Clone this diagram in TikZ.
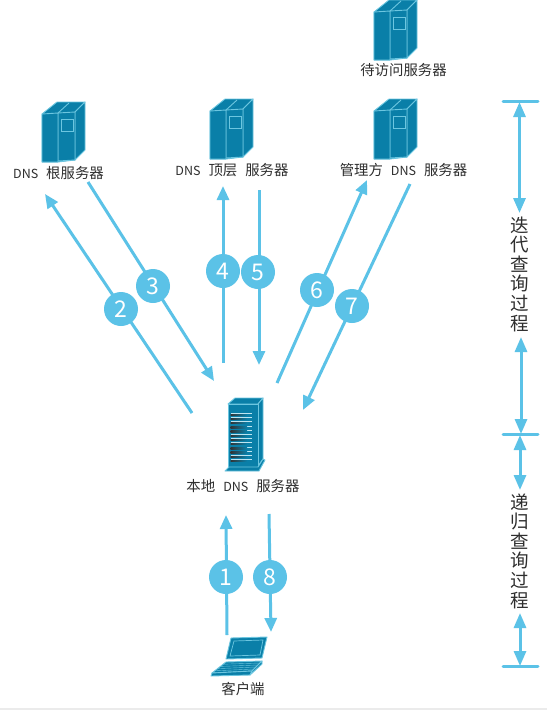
\documentclass[tikz,border=0pt]{standalone}
\usepackage{fontspec}
\setmainfont{Noto Sans CJK SC}
\usetikzlibrary{arrows.meta,calc}
\definecolor{linkblue}{HTML}{5BC2E7}
\definecolor{devfill}{HTML}{0A7FA8}
\definecolor{devline}{HTML}{6CC6E0}
\definecolor{txt}{HTML}{2E2E2E}
\newcommand{\dnsword}{{\fontsize{12.5}{14}\selectfont DNS}}
\tikzset{
  link/.style={draw=linkblue,line width=3pt,-{Triangle[length=14pt,width=12pt]}},
  span/.style={draw=linkblue,line width=3pt,{Triangle[length=15pt,width=12pt]}-{Triangle[length=15pt,width=12pt]}},
  bar/.style={draw=linkblue,line width=3pt,line cap=round},
  badge/.style={circle,fill=linkblue,minimum size=34pt,inner sep=0pt,text=white,font=\fontsize{23}{26}\selectfont},
  lab/.style={text=txt,font=\fontsize{14.4}{16}\selectfont,inner sep=0pt,anchor=center},
  vlab/.style={text=txt,font=\fontsize{18.5}{19.6}\selectfont,inner sep=0pt,align=center,anchor=center},
  dev/.style={fill=devfill,draw=devline,line width=0.9pt,line join=round},
  devthin/.style={draw=devline,line width=0.9pt},
  tower/.pic={
    \path[dev] (0,12) -- (15,0) -- (43,0) -- (33,10) -- (33,58) -- (16,60) -- (0,60) -- cycle;
    \path[dev] (33,10) -- (43,0) -- (43,48) -- (33,58) -- cycle;
    \path[dev] (16,11) -- (33,10) -- (33,58) -- (16,59) -- cycle;
    \path[dev] (0,12) -- (16,11) -- (16,60) -- (0,60) -- cycle;
    \draw[devthin] (16,11) -- (27,1);
    \draw[devthin] (19,17) rectangle (31,29);
  }
}
\begin{document}
\begin{tikzpicture}[x=1pt,y=-1pt]
\useasboundingbox (0,0) rectangle (547,710);
\fill[white] (0,0) rectangle (547,710);
\fill[black!8] (0,707.5) rectangle (547,710);

% towers
\pic at (42,102) {tower};
\pic at (210,99) {tower};
\pic at (374,99) {tower};
\pic at (374,0) {tower};

% rack
\path[dev] (228,404) -- (235,398) -- (263,398) -- (258,404) -- cycle;
\path[dev] (258,404) -- (263,398) -- (263,459) -- (258,466) -- cycle;
\path[dev] (228,404) -- (258,404) -- (258,467) -- (228,467) -- cycle;
\path[dev] (225,471) -- (229,467) -- (258,467) -- (263,459) -- (265,460) -- (259,471) -- cycle;
\foreach \yy in {414,418.2,...,464}{
  \fill[white!55!devline] (230.5,\yy-1) rectangle (252,\yy);
  \shade[left color=black!80,right color=devfill] (230.5,\yy) rectangle (247,\yy+1.4);
}

% laptop
\path[dev] (231,638) -- (267,637) -- (262,658) -- (226,659) -- cycle;
\path[fill=devfill,draw=devline,line width=0.7pt] (234,641) -- (263,640) -- (260,655) -- (230,656) -- cycle;
\path[dev] (226,662) -- (262,661) -- (252,671) -- (212,673) -- cycle;
\path[dev] (212,673) -- (252,671) -- (250,675) -- (211,676) -- cycle;
\path[dev] (252,671) -- (262,661) -- (262,664) -- (250,675) -- cycle;
\foreach \t in {0.2,0.4,0.6,0.8}{
  \draw[devline,line width=0.4pt] ($(226,662)!\t!(212,673)$) -- ($(262,661)!\t!(252,671)$);
}

% labels
\node[lab] (root) at (58.5,173) {\dnsword\hspace{8pt}根服务器};
\node[lab] (tld) at (232,170) {\dnsword\hspace{8pt}顶层\hspace{8pt}服务器};
\node[lab] (auth) at (403.5,170) {管理方\hspace{8pt}\dnsword\hspace{8pt}服务器};
\node[lab] (target) at (403.5,70) {待访问服务器};
\node[lab] (local) at (243,486) {本地\hspace{8pt}\dnsword\hspace{8pt}服务器};
\node[lab] (client) at (243,689) {客户端};
\node[vlab] (iter) at (520,274) {迭\\代\\查\\询\\过\\程};
\node[vlab] (rec) at (520,551) {递\\归\\查\\询\\过\\程};

% free ends
\coordinate (a2s) at (192,413); \coordinate (a2e) at (45,194);
\coordinate (a3s) at (88,182); \coordinate (a3e) at (214,381);
\coordinate (a4s) at (223,363); \coordinate (a4e) at (223,186);
\coordinate (a5s) at (259,190); \coordinate (a5e) at (259,365);
\coordinate (a6s) at (277,383); \coordinate (a6e) at (367,180);
\coordinate (a7s) at (410,184); \coordinate (a7e) at (303,410);
\coordinate (a1s) at (227,635); \coordinate (a1e) at (226,515);
\coordinate (a8s) at (269,514); \coordinate (a8e) at (271,632);
\draw[link] (a2s) -- (a2e);
\draw[link] (a3s) -- (a3e);
\draw[link] (a4s) -- (a4e);
\draw[link] (a5s) -- (a5e);
\draw[link] (a6s) -- (a6e);
\draw[link] (a7s) -- (a7e);
\draw[link] (a1s) -- (a1e);
\draw[link] (a8s) -- (a8e);

% badges
\node[badge] (b2) at (121,309) {2};
\node[badge] (b3) at (153,286) {3};
\node[badge] (b4) at (223,271) {4};
\node[badge] (b5) at (258,272) {5};
\node[badge] (b6) at (317,290) {6};
\node[badge] (b7) at (352,306) {7};
\node[badge] (b1) at (226,577) {1};
\node[badge] (b8) at (270,577) {8};

% spans
\coordinate (t1l) at (503,101); \coordinate (t1r) at (538,101);
\coordinate (t2l) at (503,434); \coordinate (t2r) at (538,434);
\coordinate (t3l) at (503,666); \coordinate (t3r) at (538,666);
\draw[bar] (t1l) -- (t1r);
\draw[bar] (t2l) -- (t2r);
\draw[bar] (t3l) -- (t3r);
\coordinate (s1a) at (519.5,102); \coordinate (s1b) at (519.5,213);
\coordinate (s2a) at (521,337); \coordinate (s2b) at (521,434);
\coordinate (s3a) at (520,435); \coordinate (s3b) at (520,490);
\coordinate (s4a) at (520,613); \coordinate (s4b) at (520,666);
\draw[span] (s1a) -- (s1b);
\draw[span] (s2a) -- (s2b);
\draw[span] (s3a) -- (s3b);
\draw[span] (s4a) -- (s4b);
\end{tikzpicture}
\end{document}
